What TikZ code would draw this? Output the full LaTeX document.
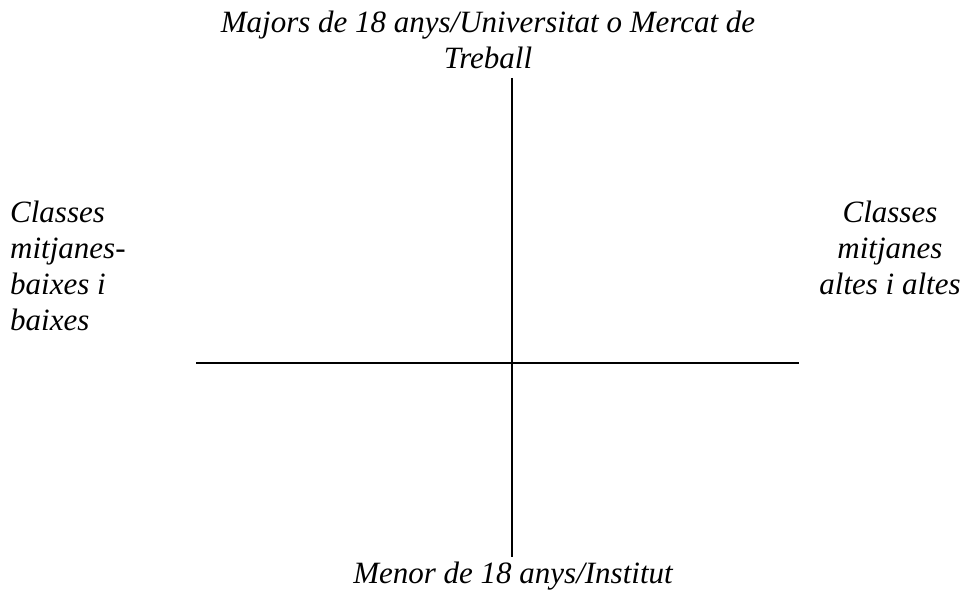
\documentclass[tikz,border=0pt]{standalone}
\usepackage{fontspec}
\setmainfont{Liberation Serif}
\usetikzlibrary{positioning}

\begin{document}
\begin{tikzpicture}[x=1pt,y=1pt]
  \tikzset{label/.style={font=\fontsize{31}{36}\selectfont\itshape, inner sep=0pt}}
  \useasboundingbox (0,0) rectangle (969,-594);

  \coordinate (top)    at (512,-78);
  \coordinate (bottom) at (512,-557);
  \coordinate (west)   at (196,-363);
  \coordinate (east)   at (799,-363);

  \node[label,align=center] (age_hi) at (488,-40)  {Majors de 18 anys/Universitat o Mercat de\\Treball};
  \node[label,align=center] (age_lo) at (513,-576) {Menor de 18 anys/Institut};
  \node[label,align=left,anchor=west]  (cls_lo) at (10,-266) {Classes\\mitjanes-\\baixes i\\baixes};
  \node[label,align=center] (cls_hi) at (890,-248) {Classes\\mitjanes\\altes i altes};

  \draw[line width=1.5pt] (top) -- (bottom);
  \draw[line width=1.5pt] (west) -- (east);
\end{tikzpicture}
\end{document}
